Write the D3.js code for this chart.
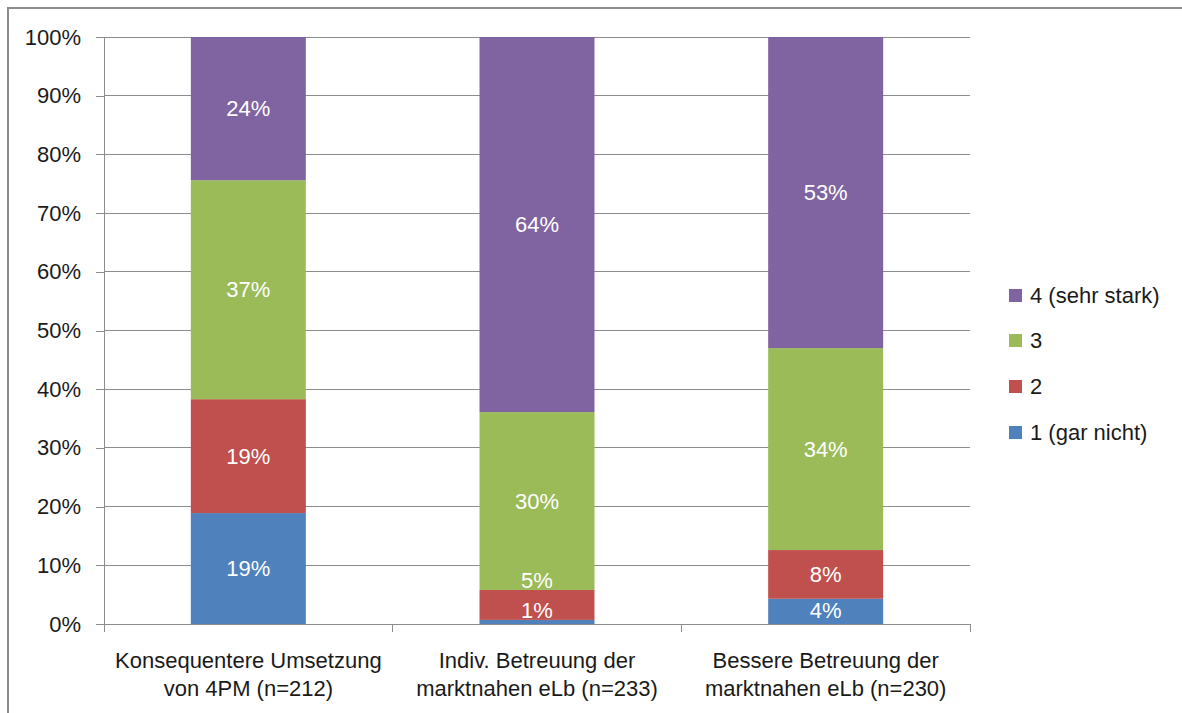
<!DOCTYPE html>
<html><head><meta charset="utf-8">
<script src="https://cdn.jsdelivr.net/npm/d3@7"></script>
<style>
html,body{margin:0;padding:0;background:#fff;}
svg text{font-family:"Liberation Sans","DejaVu Sans",sans-serif;}
</style></head>
<body>
<svg id="chart" width="1182" height="713"></svg>
<script>
const categories = [
  ["Konsequentere Umsetzung", "von 4PM (n=212)"],
  ["Indiv. Betreuung der", "marktnahen eLb (n=233)"],
  ["Bessere Betreuung der", "marktnahen eLb (n=230)"]
];
const seriesNames = ["1 (gar nicht)", "2", "3", "4 (sehr stark)"];
const seriesColors = ["#4F81BD", "#C0504D", "#9BBB59", "#8064A2"];
const s1 = [18.9, 0.7, 4.3];
const s2 = [19.4, 5.1, 8.3];
const s3 = [37.3, 30.3, 34.4];
const s4 = [24.4, 63.9, 53.0];
const labels1 = ["19%", "1%", "4%"];
const labels2 = ["19%", "5%", "8%"];
const labels3 = ["37%", "30%", "34%"];
const labels4 = ["24%", "64%", "53%"];
const yTicks = [0,10,20,30,40,50,60,70,80,90,100];

const seriesVals = [s1, s2, s3, s4];
const seriesLabels = [labels1, labels2, labels3, labels4];

const svg = d3.select("#chart");
const W = 1182, H = 713;
const plot = {left:104, right:970, top:37, bottom:624};
const FS = 22;

// outer border
svg.append("rect").attr("x", 8).attr("y", 8).attr("width", W).attr("height", H)
  .attr("fill", "none").attr("stroke", "#8c8c8c").attr("stroke-width", 2);

const x = d3.scaleBand().domain(d3.range(categories.length)).range([plot.left, plot.right]).paddingInner(0).paddingOuter(0);
const y = d3.scaleLinear().domain([0, 100]).range([plot.bottom, plot.top]);

// gridlines
svg.append("g").selectAll("line").data(yTicks.filter(d => d > 0)).join("line")
  .attr("x1", plot.left).attr("x2", plot.right)
  .attr("y1", d => y(d)).attr("y2", d => y(d))
  .attr("stroke", "#8c8c8c").attr("stroke-width", 1).attr("shape-rendering", "crispEdges");

// y axis
const yAxis = d3.axisLeft(y).tickValues(yTicks).tickFormat(d => d + "%").tickSize(8).tickPadding(15);
const gy = svg.append("g").attr("transform", `translate(${plot.left},0)`).call(yAxis);
gy.select(".domain").attr("stroke", "#8c8c8c").attr("shape-rendering", "crispEdges");
gy.selectAll(".tick line").attr("stroke", "#8c8c8c").attr("shape-rendering", "crispEdges");
gy.selectAll(".tick text").attr("font-size", FS).attr("fill", "#1a1a1a").attr("font-family", "Liberation Sans");

// stacked data
const stackData = categories.map((c, i) => {
  const o = {i};
  seriesVals.forEach((s, k) => o["s" + k] = s[i]);
  return o;
});
const stack = d3.stack().keys(seriesNames.map((_, k) => "s" + k));
const stacked = stack(stackData);

const barW = 115;
const barsG = svg.append("g");
stacked.forEach((layer, k) => {
  barsG.selectAll(null).data(layer).join("rect")
    .attr("x", d => x(d.data.i) + x.bandwidth() / 2 - barW / 2)
    .attr("width", barW)
    .attr("y", d => y(d[1]))
    .attr("height", d => y(d[0]) - y(d[1]))
    .attr("fill", seriesColors[k]);
});

// x axis line and ticks
svg.append("line").attr("x1", plot.left).attr("x2", plot.right).attr("y1", plot.bottom).attr("y2", plot.bottom)
  .attr("stroke", "#8c8c8c").attr("shape-rendering", "crispEdges");
const bounds = d3.range(categories.length + 1).map(i => i < categories.length ? x(i) : plot.right);
svg.append("g").selectAll("line").data(bounds).join("line")
  .attr("x1", d => d).attr("x2", d => d).attr("y1", plot.bottom).attr("y2", plot.bottom + 8)
  .attr("stroke", "#8c8c8c").attr("shape-rendering", "crispEdges");

// data labels with overlap avoidance (Excel-like)
const lblG = svg.append("g");
categories.forEach((c, i) => {
  let prev = null;
  stacked.forEach((layer, k) => {
    const d = layer[i];
    let cy = (y(d[0]) + y(d[1])) / 2;
    cy = Math.min(cy, plot.bottom - 14);
    if (prev !== null) cy = Math.min(cy, prev - 30);
    prev = cy;
    lblG.append("text")
      .attr("x", x(i) + x.bandwidth() / 2)
      .attr("y", cy)
      .attr("dy", "0.35em")
      .attr("text-anchor", "middle")
      .attr("font-size", FS)
      .attr("fill", "#fff")
      .text(seriesLabels[k][i]);
  });
});

// category labels
categories.forEach((lines, i) => {
  const t = svg.append("text").attr("text-anchor", "middle").attr("font-size", FS).attr("fill", "#1a1a1a");
  lines.forEach((ln, j) => {
    t.append("tspan").attr("x", x(i) + x.bandwidth() / 2).attr("y", 668 + j * 28).text(ln);
  });
});

// legend
const legendOrder = [3, 2, 1, 0];
const legY = [295, 340, 386, 432];
const lg = svg.append("g");
legendOrder.forEach((k, j) => {
  lg.append("rect").attr("x", 1009).attr("y", legY[j] - 6).attr("width", 13).attr("height", 13).attr("fill", seriesColors[k]);
  lg.append("text").attr("x", 1030).attr("y", legY[j]).attr("dy", "0.35em").attr("font-size", FS).attr("fill", "#1a1a1a").text(seriesNames[k]);
});
</script>
</body></html>
